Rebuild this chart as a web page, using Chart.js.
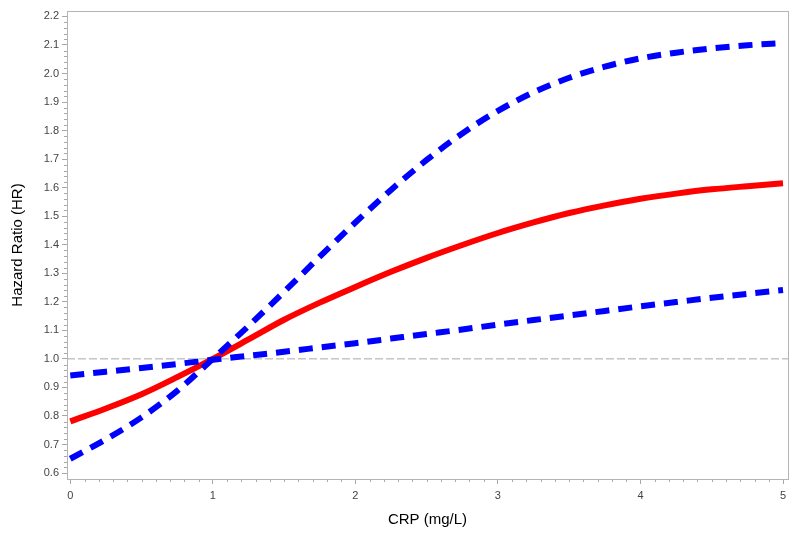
<!DOCTYPE html>
<html>
<head>
<meta charset="utf-8">
<script src="https://cdn.jsdelivr.net/npm/chart.js@4.4.1/dist/chart.umd.min.js"></script>
<style>
  html, body { margin: 0; padding: 0; background: #fff; }
  #wrap { width: 800px; height: 535px; position: relative; }
</style>
</head>
<body>
<div id="wrap"><canvas id="c" width="800" height="535"></canvas></div>
<script>
// CRP values (mg/L)
const crp = [0, 0.25, 0.5, 0.75, 1, 1.25, 1.5, 1.75, 2, 2.25, 2.5, 2.75, 3, 3.25, 3.5, 3.75, 4, 4.25, 4.5, 4.75, 5];
// Hazard ratio estimate
const hr = [0.781, 0.826, 0.876, 0.936, 1.0, 1.068, 1.137, 1.197, 1.252, 1.305, 1.354, 1.399, 1.441, 1.478, 1.511, 1.538, 1.561, 1.579, 1.594, 1.605, 1.615];
// Upper 95% CI
const upper = [0.650, 0.718, 0.795, 0.888, 1.000, 1.115, 1.235, 1.358, 1.478, 1.592, 1.697, 1.790, 1.869, 1.934, 1.985, 2.024, 2.053, 2.073, 2.088, 2.099, 2.107];
// Lower 95% CI
const lower = [0.942, 0.955, 0.968, 0.982, 0.997, 1.011, 1.025, 1.040, 1.055, 1.071, 1.087, 1.103, 1.120, 1.136, 1.152, 1.168, 1.184, 1.199, 1.214, 1.228, 1.241];
// Reference line HR = 1
const refX = [-0.023, 5.035];
const refY = [1, 1];
// Axis ticks
const xTicks = [0, 1, 2, 3, 4, 5];
const yTicks = [0.6, 0.7, 0.8, 0.9, 1.0, 1.1, 1.2, 1.3, 1.4, 1.5, 1.6, 1.7, 1.8, 1.9, 2.0, 2.1, 2.2];

const toPts = (xs, ys) => xs.map((x, i) => ({ x: x, y: ys[i] }));

const minorTicks = {
  id: 'minorTicks',
  afterDraw(chart) {
    const ctx = chart.ctx;
    const xs = chart.scales.x, ys = chart.scales.y;
    const a = chart.chartArea;
    ctx.save();
    ctx.strokeStyle = '#a8a8a8';
    ctx.lineWidth = 1;
    ctx.beginPath();
    for (let i = 1; i < 50; i++) {
      if (i % 10 === 0) continue;
      const px = Math.round(xs.getPixelForValue(i / 10)) + 0.5;
      ctx.moveTo(px, a.bottom);
      ctx.lineTo(px, a.bottom + 3);
    }
    for (let i = 30; i <= 110; i++) {
      if (i % 5 === 0) continue;
      const py = Math.round(ys.getPixelForValue(i / 50)) + 0.5;
      ctx.moveTo(a.left - 3, py);
      ctx.lineTo(a.left, py);
    }
    ctx.stroke();
    // frame
    ctx.strokeStyle = '#b4b4b4';
    ctx.strokeRect(Math.round(a.left) + 0.5, Math.round(a.top) + 0.5, Math.round(a.right - a.left), Math.round(a.bottom - a.top));
    ctx.restore();
  }
};

new Chart(document.getElementById('c'), {
  type: 'line',
  data: {
    datasets: [
      {
        label: 'Upper CI',
        data: toPts(crp, upper),
        borderColor: '#0000ff',
        borderWidth: 6,
        borderDash: [14, 9],
        borderCapStyle: 'butt',
        pointRadius: 0,
        fill: false,
        cubicInterpolationMode: 'monotone',
        order: 1
      },
      {
        label: 'Lower CI',
        data: toPts(crp, lower),
        borderColor: '#0000ff',
        borderWidth: 6,
        borderDash: [14, 9],
        borderCapStyle: 'butt',
        pointRadius: 0,
        fill: false,
        cubicInterpolationMode: 'monotone',
        order: 1
      },
      {
        label: 'HR',
        data: toPts(crp, hr),
        borderColor: '#ff0000',
        borderWidth: 6,
        pointRadius: 0,
        fill: false,
        cubicInterpolationMode: 'monotone',
        order: 2
      },
      {
        label: 'Reference',
        data: toPts(refX, refY),
        borderColor: '#a8a8a8',
        borderWidth: 1,
        borderDash: [8, 3],
        pointRadius: 0,
        fill: false,
        order: 3
      }
    ]
  },
  options: {
    responsive: false,
    animation: false,
    devicePixelRatio: 1,
    layout: { padding: { left: 0, top: 11, right: 12, bottom: 0 } },
    plugins: { legend: { display: false }, tooltip: { enabled: false } },
    scales: {
      x: {
        type: 'linear',
        min: -0.023,
        max: 5.035,
        afterBuildTicks: (s) => { s.ticks = xTicks.map(v => ({ value: v })); },
        afterFit: (s) => { s.height = 56; },
        ticks: {
          color: '#444',
          font: { family: 'Liberation Sans, Arial, sans-serif', size: 11 },
          padding: 5,
          maxRotation: 0,
          callback: (v) => String(v)
        },
        grid: { drawOnChartArea: false, drawTicks: true, tickLength: 5, color: '#a8a8a8' },
        border: { display: true, color: '#b4b4b4' },
        title: {
          display: true,
          text: 'CRP (mg/L)',
          color: '#000',
          font: { family: 'Liberation Sans, Arial, sans-serif', size: 15 },
          padding: { top: 0, bottom: 6 }
        }
      },
      y: {
        type: 'linear',
        min: 0.579,
        max: 2.219,
        afterBuildTicks: (s) => { s.ticks = yTicks.map(v => ({ value: v })); },
        afterFit: (s) => { s.width = 67; },
        ticks: {
          color: '#444',
          font: { family: 'Liberation Sans, Arial, sans-serif', size: 11 },
          padding: 3,
          callback: (v) => Number(v).toFixed(1)
        },
        grid: { drawOnChartArea: false, drawTicks: true, tickLength: 5, color: '#a8a8a8' },
        border: { display: true, color: '#b4b4b4' },
        title: {
          display: true,
          text: 'Hazard Ratio (HR)',
          color: '#000',
          font: { family: 'Liberation Sans, Arial, sans-serif', size: 15 },
          padding: { top: 9, bottom: 0 }
        }
      }
    }
  },
  plugins: [minorTicks]
});
</script>
</body>
</html>
